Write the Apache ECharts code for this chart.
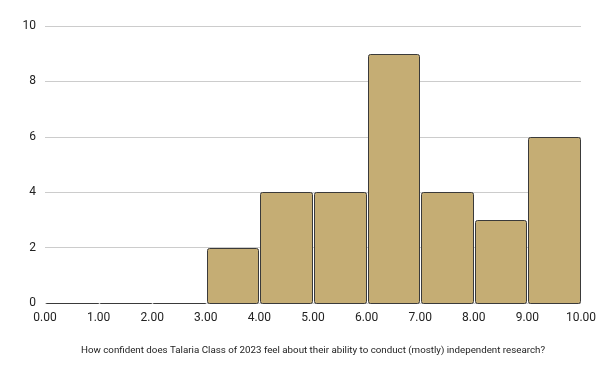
<!DOCTYPE html>
<html><head><meta charset="utf-8">
<script src="https://cdn.jsdelivr.net/npm/echarts@6/dist/echarts.min.js"></script>
<style>html,body{margin:0;padding:0;background:#fff}#c{width:600px;height:371px}</style>
</head><body><div id="c"></div>
<script>
const binStarts = [0,1,2,3,4,5,6,7,8,9];
const counts = [0,0,0,2,4,4,9,4,3,6];
const xTitle = "How confident does Talaria Class of 2023 feel about their ability to conduct (mostly) independent research?";

const chart = echarts.init(document.getElementById('c'), null, {renderer:'canvas'});
chart.setOption({
  animation:false,
  grid:{left:45,right:19,top:26,bottom:68,containLabel:false},
  xAxis:{type:'value',min:0,max:10,interval:1,
    axisLine:{show:false},axisTick:{show:false},splitLine:{show:false},
    axisLabel:{formatter:v=>v.toFixed(2),color:'#222',fontFamily:'Roboto',fontSize:12,margin:9},
    name:xTitle,nameLocation:'middle',nameGap:43,
    nameTextStyle:{color:'#222',fontFamily:'Roboto',fontSize:9.75}},
  yAxis:{type:'value',min:0,max:10,interval:2,
    axisLine:{show:false},axisTick:{show:false},
    splitLine:{lineStyle:{color:'#ccc',width:1}},
    axisLabel:{color:'#222',fontFamily:'Roboto',fontSize:12,margin:9}},
  series:[{type:'custom',
    data:binStarts.map((b,i)=>[b,counts[i]]),
    encode:{x:0,y:1},
    renderItem:function(params,api){
      const s=api.value(0), v=api.value(1);
      const p0=api.coord([s,0]), p1=api.coord([s+1,v]);
      const x=Math.round(p0[0])+1.5, w=Math.round(p1[0])-Math.round(p0[0])-2;
      const y=Math.round(p1[1])+0.5, h=Math.round(p0[1])-Math.round(p1[1]);
      return {type:'rect',shape:{x:x,y:y,width:w,height:h,r:v>0?2:0},
        style:{fill:'#c5ad74',stroke:'#3a3a3a',lineWidth:1}};
    }}]
});
</script></body></html>
